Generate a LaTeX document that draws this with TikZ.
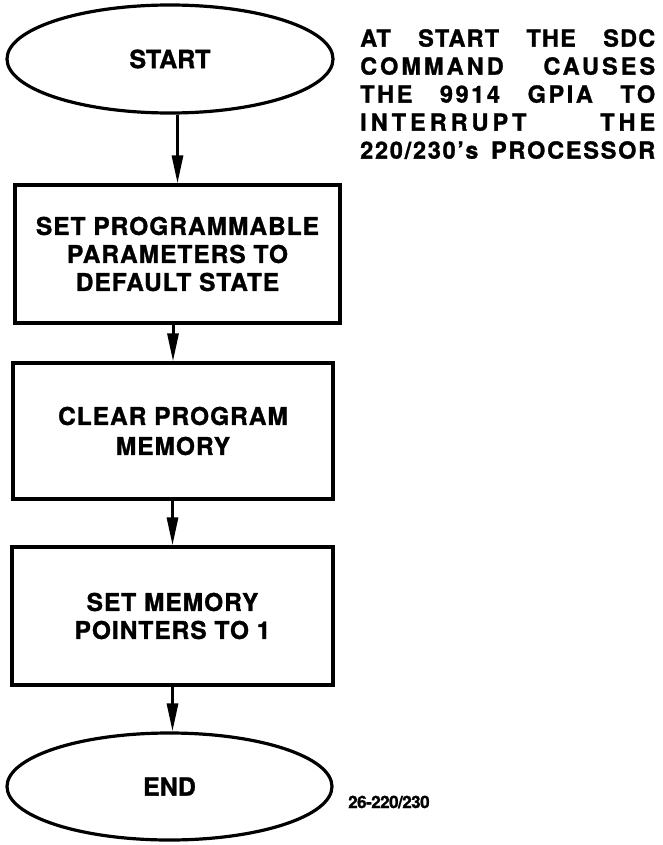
\documentclass[tikz,border=0pt]{standalone}
\usepackage{fontspec}
\setmainfont{TeX Gyre Heros}[FakeBold=1.2]
\usetikzlibrary{shapes.geometric,arrows.meta}

\newcommand{\jline}[2]{\makebox[295pt][s]{\addfontfeature{LetterSpace=#1}#2}}

\begin{document}
\begin{tikzpicture}[x=1pt,y=-1pt,
  term/.style={ellipse,draw,line width=3.2pt,inner sep=0pt,
    font=\fontsize{25}{28}\selectfont\bfseries},
  proc/.style={rectangle,draw,line width=3.2pt,inner sep=0pt,align=center,
    font=\fontsize{24.5}{28}\selectfont\bfseries\addfontfeature{LetterSpace=4}},
  flow/.style={line width=3pt,-{Triangle[length=28pt,width=11pt]}}]
  \useasboundingbox (0,0) rectangle (662,845);
  \path (170,59) node[term,minimum width=326pt,minimum height=108pt] (start) {START};
  \path (177.5,254) node[proc,minimum width=325pt,minimum height=138pt] (params)
     {SET PROGRAMMABLE\\ PARAMETERS TO\\ DEFAULT STATE};
  \path (173,431) node[proc,minimum width=320pt,minimum height=136pt] (clear)
     {CLEAR PROGRAM\\[2pt] MEMORY};
  \path (172.5,616) node[proc,minimum width=321pt,minimum height=138pt] (pointers)
     {SET MEMORY\\ POINTERS TO 1};
  \path (169.5,786.5) node[term,minimum width=325pt,minimum height=107pt] (finish) {END};
  \path (360,29) node[anchor=north west,inner sep=0pt,align=left,
     font=\fontsize{23.5}{28}\selectfont\bfseries] (note)
     {\jline{5}{AT START THE SDC}\\
      \jline{13}{COMMAND CAUSES}\\
      \jline{11}{THE 9914 GPIA TO}\\
      \jline{17}{INTERRUPT THE}\\
      \jline{7.5}{220/230's PROCESSOR}};
  \path (348,802) node[anchor=west,inner sep=0pt,
     font=\fontsize{17}{20}\selectfont\bfseries\addfontfeature{LetterSpace=-3}] (fig) {26-220/230};
  \draw[flow] (params.north |- start.south) -- (params.north);
  \draw[flow] (clear.north |- params.south) -- (clear.north);
  \draw[flow] (pointers.north |- clear.south) -- (pointers.north);
  \draw[flow] (pointers.south) -- (pointers.south |- finish.north);
\end{tikzpicture}
\end{document}
